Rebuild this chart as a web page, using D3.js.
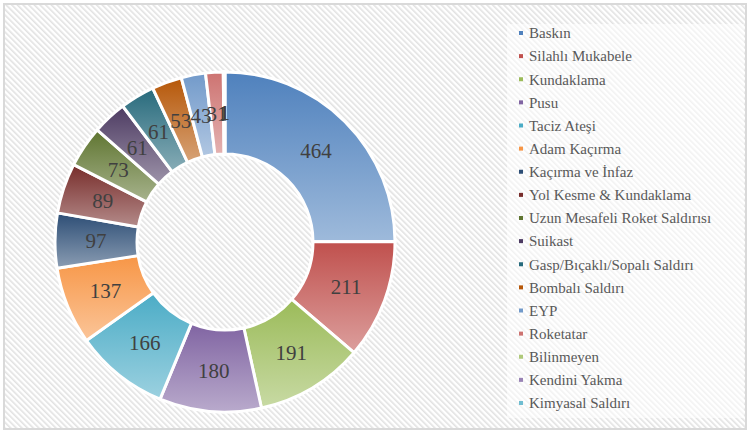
<!DOCTYPE html>
<html>
<head>
<meta charset="UTF-8">
<script src="https://d3js.org/d3.v7.min.js"></script>
</head>
<body>
<svg id="chart" width="750" height="433"></svg>
<script>
document.body.style.margin = "0";

// data
var categories = ["Baskın", "Silahlı Mukabele", "Kundaklama", "Pusu", "Taciz Ateşi",
  "Adam Kaçırma", "Kaçırma ve İnfaz", "Yol Kesme & Kundaklama", "Uzun Mesafeli Roket Saldırısı",
  "Suikast", "Gasp/Bıçaklı/Sopalı Saldırı", "Bombalı Saldırı", "EYP", "Roketatar",
  "Bilinmeyen", "Kendini Yakma", "Kimyasal Saldırı"];
var values = [464, 211, 191, 180, 166, 137, 97, 89, 73, 61, 61, 53, 43, 31, 1, 1, 1];
var colors = ["#4f81bd", "#c0504d", "#9bbb59", "#8064a2", "#4bacc6", "#f79646",
  "#2c4d75", "#772c2a", "#5f7530", "#4d3b62", "#276a7c", "#b65708",
  "#729aca", "#cd7371", "#afc97a", "#9983b5", "#6fbdd1"];

var width = 750, height = 433;
var cx = 225, cy = 242, outerR = 170, innerR = 88;
var serif = "'Liberation Serif', 'Times New Roman', serif";

var svg = d3.select("#chart")
  .style("display", "block");

var defs = svg.append("defs");

// diagonal stripes of the chart area
var pat = defs.append("pattern")
  .attr("id", "stripes")
  .attr("patternUnits", "userSpaceOnUse")
  .attr("width", 4).attr("height", 4)
  .attr("patternTransform", "rotate(-45)");
pat.append("rect").attr("width", 4).attr("height", 4).attr("fill", "#ffffff");
pat.append("rect").attr("width", 1.6).attr("height", 4).attr("fill", "#e2e2e2");

// one vertical gradient per slice, dark on top, light below
colors.forEach(function(c, i) {
  var g = defs.append("linearGradient")
    .attr("id", "grad" + i)
    .attr("x1", 0).attr("y1", 0).attr("x2", 0).attr("y2", 1);
  g.append("stop").attr("offset", "0%").attr("stop-color", c);
  g.append("stop").attr("offset", "100%").attr("stop-color", d3.interpolateRgb(c, "#ffffff")(0.45));
});

svg.append("rect")
  .attr("x", 4).attr("y", 4)
  .attr("width", width - 8).attr("height", height - 8)
  .attr("fill", "url(#stripes)")
  .attr("stroke", "#d9d9d9")
  .attr("stroke-width", 2);

// legend backdrop
svg.append("rect")
  .attr("x", 507).attr("y", 24)
  .attr("width", 237).attr("height", 394)
  .attr("fill", "#ffffff")
  .attr("fill-opacity", 0.55);

var data = categories.map(function(k, i) { return { key: k, value: values[i], i: i }; });

var pie = d3.pie().sort(null).value(function(d) { return d.value; });
var arc = d3.arc().innerRadius(innerR).outerRadius(outerR);
var labelArc = d3.arc().innerRadius((innerR + outerR) / 2).outerRadius((innerR + outerR) / 2);

var g = svg.append("g").attr("transform", "translate(" + cx + "," + cy + ")");

var arcs = pie(data);

g.selectAll("path")
  .data(arcs)
  .enter().append("path")
    .attr("d", arc)
    .attr("fill", function(d) { return "url(#grad" + d.data.i + ")"; })
    .attr("stroke", "#ffffff")
    .attr("stroke-width", 3);

g.selectAll("text.val")
  .data(arcs)
  .enter().append("text")
    .attr("class", "val")
    .attr("transform", function(d) { return "translate(" + labelArc.centroid(d) + ")"; })
    .attr("text-anchor", "middle")
    .attr("dy", "0.35em")
    .attr("font-family", "Liberation Serif")
    .attr("font-size", 21)
    .attr("fill", "#404040")
    .style("font-family", serif, "important")
    .text(function(d) { return d.data.value; });

// legend
var y = d3.scalePoint().domain(categories).range([33, 403]);

var leg = svg.append("g").selectAll("g")
  .data(data)
  .enter().append("g")
    .attr("transform", function(d) { return "translate(0," + y(d.key) + ")"; });

leg.append("rect")
  .attr("x", 519).attr("y", -2)
  .attr("width", 4).attr("height", 4)
  .attr("fill", function(d) { return colors[d.i]; });

leg.append("text")
  .attr("x", 529)
  .attr("dy", "0.35em")
  .attr("font-family", "Liberation Serif")
  .attr("font-size", 15)
  .attr("fill", "#595959")
  .style("font-family", serif, "important")
  .text(function(d) { return d.key; });
</script>
</body>
</html>
